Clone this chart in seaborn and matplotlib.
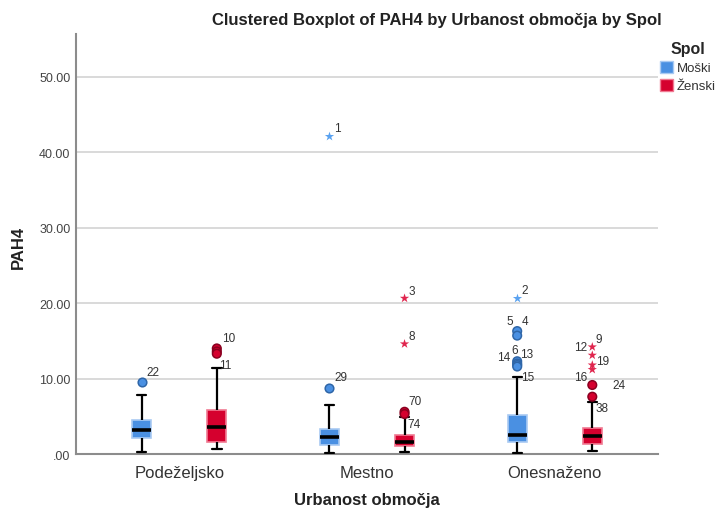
import numpy as np
import pandas as pd
import matplotlib
matplotlib.use("Agg")
import matplotlib.pyplot as plt
from matplotlib.patches import Patch
from matplotlib.ticker import FuncFormatter
import seaborn as sns

# ---------------- data ----------------
categories = ["Podeželjsko", "Mestno", "Onesnaženo"]
sexes = ["Moški", "Ženski"]

# box statistics (whisker low, Q1, median, Q3, whisker high)
mos_low = [0.3, 0.1, 0.1]
mos_q1 = [2.1, 1.25, 1.55]
mos_med = [3.2, 2.2, 2.55]
mos_q3 = [4.55, 3.3, 5.2]
mos_high = [7.8, 6.5, 10.15]

zen_low = [0.65, 0.3, 0.45]
zen_q1 = [1.55, 1.1, 1.35]
zen_med = [3.6, 1.55, 2.35]
zen_q3 = [5.9, 2.55, 3.45]
zen_high = [11.4, 4.85, 6.95]

# outliers (o = circle, * = extreme)
out_cat = ["Podeželjsko", "Podeželjsko", "Podeželjsko", "Podeželjsko",
           "Mestno", "Mestno", "Mestno", "Mestno", "Mestno", "Mestno",
           "Onesnaženo", "Onesnaženo", "Onesnaženo", "Onesnaženo", "Onesnaženo",
           "Onesnaženo", "Onesnaženo",
           "Onesnaženo", "Onesnaženo", "Onesnaženo", "Onesnaženo",
           "Onesnaženo", "Onesnaženo"]
out_sex = ["Moški", "Ženski", "Ženski", "Ženski",
           "Moški", "Moški", "Ženski", "Ženski", "Ženski", "Ženski",
           "Moški", "Moški", "Moški", "Moški", "Moški",
           "Moški", "Moški",
           "Ženski", "Ženski", "Ženski", "Ženski",
           "Ženski", "Ženski"]
out_val = [9.6, 14.0, 13.6, 13.3,
           42.2, 8.7, 20.65, 14.6, 5.6, 5.3,
           20.7, 16.3, 15.7, 12.3, 12.0,
           11.8, 11.6,
           14.2, 13.1, 11.8, 11.2,
           9.15, 7.6]
out_kind = ["o", "o", "o", "o",
            "*", "o", "*", "*", "o", "o",
            "*", "o", "o", "o", "o",
            "o", "o",
            "*", "*", "*", "*",
            "o", "o"]
out_ids = ["22", "10", "", "11",
           "1", "29", "3", "8", "70", "74",
           "2", "5", "", "14", "6",
           "13", "15",
           "12", "", "19", "16",
           "24", "38"]
# extra labels anchored at existing points
extra_lbl_ids = ["4", "9"]
extra_lbl_cat = ["Onesnaženo", "Onesnaženo"]
extra_lbl_sex = ["Moški", "Ženski"]
extra_lbl_val = [16.3, 14.2]

# label offsets in pixels (dx, dy, ha)
lbl_off = {
    "22": (5, 10, "left"), "10": (5, 10, "left"), "11": (2, -11, "left"),
    "1": (5, 8, "left"), "29": (5, 11, "left"), "3": (4, 7, "left"),
    "8": (4, 8, "left"), "70": (4, 11, "left"), "74": (3, -10, "left"),
    "2": (4, 8, "left"), "5": (-4, 10, "right"), "4": (4, 10, "left"),
    "14": (-7, 4, "right"), "6": (-6, 14, "left"), "13": (3, 11, "left"),
    "15": (4, -10, "left"), "12": (-5, 0, "right"), "9": (3, 8, "left"),
    "19": (4, 4, "left"), "16": (-5, -7, "right"), "24": (20, 0, "left"),
    "38": (3, -11, "left"),
}

# ---------------- build tables ----------------
rows = []
for i, c in enumerate(categories):
    for v in (mos_low[i], mos_q1[i], mos_med[i], mos_q3[i], mos_high[i]):
        rows.append((c, "Moški", v))
    for v in (zen_low[i], zen_q1[i], zen_med[i], zen_q3[i], zen_high[i]):
        rows.append((c, "Ženski", v))
box_df = pd.DataFrame(rows, columns=["Urbanost", "Spol", "PAH4"])
out_df = pd.DataFrame({"Urbanost": out_cat, "Spol": out_sex, "PAH4": out_val,
                       "kind": out_kind, "id": out_ids})

blue = "#4A90E2"
red = "#D5002E"
palette = {"Moški": blue, "Ženski": red}
edge_light = {"Moški": "#A9CAF2", "Ženski": "#F07A92"}
edge_dark = {"Moški": "#2F66A8", "Ženski": "#8A0020"}
star_col = {"Moški": "#5AA2F0", "Ženski": "#E0264E"}

# ---------------- plot ----------------
sns.set_style("white")
plt.rcParams["font.family"] = ["Liberation Sans", "DejaVu Sans"]

fig = plt.figure(figsize=(7.18, 5.10), dpi=100)
ax = fig.add_axes([76 / 718, 1 - 455 / 510, (658 - 76) / 718, (455 - 35) / 510])

sns.boxplot(data=box_df, x="Urbanost", y="PAH4", hue="Spol",
            order=categories, hue_order=sexes, palette=palette,
            saturation=1, width=0.8, gap=0.75, whis=(0, 100),
            showfliers=False, legend=False, ax=ax,
            medianprops=dict(color="black", linewidth=2.6),
            whiskerprops=dict(color="black", linewidth=1.6),
            capprops=dict(color="black", linewidth=1.6),
            boxprops=dict(linewidth=1.2), zorder=3)

for p in ax.patches:
    fc = matplotlib.colors.to_hex(p.get_facecolor())
    sx = "Moški" if fc.lower() == blue.lower() else "Ženski"
    p.set_edgecolor(edge_light[sx])
    p.set_zorder(3)

for sx in sexes:
    sub = out_df[(out_df["Spol"] == sx) & (out_df["kind"] == "o")]
    sns.stripplot(data=sub, x="Urbanost", y="PAH4", hue="Spol",
                  order=categories, hue_order=sexes, palette=palette,
                  dodge=True, jitter=False, marker="o", size=6.2,
                  linewidth=1.1, edgecolor=edge_dark[sx], legend=False,
                  ax=ax, zorder=4)
    sub = out_df[(out_df["Spol"] == sx) & (out_df["kind"] == "*")]
    sns.stripplot(data=sub, x="Urbanost", y="PAH4", hue="Spol",
                  order=categories, hue_order=sexes,
                  palette={s: star_col[s] for s in sexes},
                  dodge=True, jitter=False, marker="*", size=7,
                  linewidth=0, legend=False, ax=ax, zorder=4)

def xpos(cat, sex):
    return categories.index(cat) + (-0.2 if sex == "Moški" else 0.2)

px = 72 / 100
all_ids = list(zip(out_cat, out_sex, out_val, out_ids)) + \
    list(zip(extra_lbl_cat, extra_lbl_sex, extra_lbl_val, extra_lbl_ids))
for c, s, v, lid in all_ids:
    if not lid:
        continue
    dx, dy, ha = lbl_off[lid]
    ax.annotate(lid, (xpos(c, s), v), xytext=(dx * px, dy * px),
                textcoords="offset points", ha=ha, va="center",
                fontsize=8.5, color="#333333", zorder=5)

ax.set_xlim(-0.55, 2.55)
ax.set_ylim(0, 55.7)
ax.set_yticks([0, 10, 20, 30, 40, 50])
ax.yaxis.set_major_formatter(FuncFormatter(
    lambda v, p: ".00" if v == 0 else f"{v:.2f}"))
ax.grid(axis="y", color="#D3D3D3", linewidth=1.2, zorder=0)
ax.set_axisbelow(True)
ax.set_xlabel("")
ax.set_ylabel("")
for s in ["top", "right"]:
    ax.spines[s].set_visible(False)
for s in ["left", "bottom"]:
    ax.spines[s].set_color("#8C8C8C")
    ax.spines[s].set_linewidth(1.5)
ax.tick_params(axis="y", length=0, pad=4, labelsize=9, labelcolor="#444444")
ax.tick_params(axis="x", length=0, pad=8, labelsize=12, labelcolor="#333333")

fig.text(437 / 718, 1 - 20 / 510, "Clustered Boxplot of PAH4 by Urbanost območja by Spol",
         ha="center", va="center", fontsize=12, fontweight="bold", color="#222222")
fig.text(18 / 718, 1 - 247 / 510, "PAH4", rotation=90, ha="center", va="center",
         fontsize=12, fontweight="bold", color="#222222")
fig.text(367 / 718, 1 - 501 / 510, "Urbanost območja", ha="center", va="center",
         fontsize=12, fontweight="bold", color="#222222")

handles = [Patch(facecolor=palette[s], edgecolor=edge_light[s], label=s) for s in sexes]
leg = fig.legend(handles=handles, title="Spol", loc="upper left",
                 bbox_to_anchor=(651 / 718, 1 - 33 / 510), frameon=False,
                 fontsize=9.5, handlelength=1.0, handleheight=1.0,
                 handletextpad=0.25, labelspacing=0.35, borderpad=0.2)
leg.get_title().set_fontweight("bold")
leg.get_title().set_fontsize(11.5)
for t in leg.get_texts():
    t.set_color("#333333")

fig.savefig("out.png", dpi=100)
